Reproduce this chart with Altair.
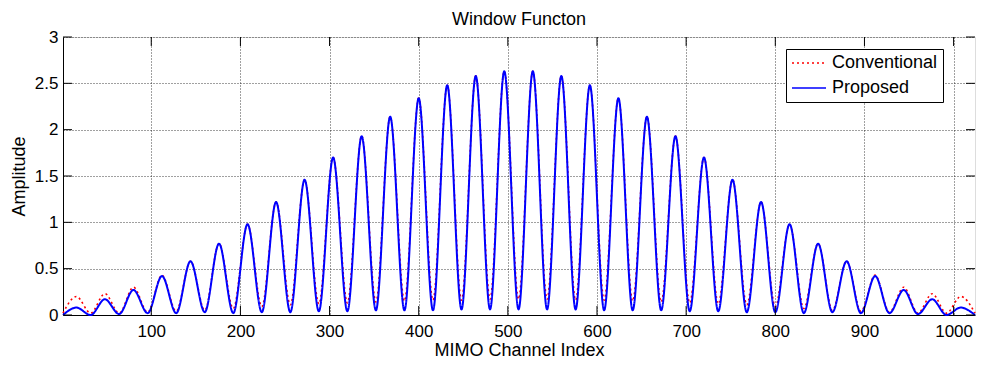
import altair as alt
import pandas as pd

FONT = "Liberation Sans"
W, H = 912, 278

# Channel indices of lobe peaks and of the nulls between them (ends included)
peak_x = [16, 48, 80, 112, 144, 176, 208, 240, 272, 304, 336, 368, 400, 432, 464, 496,
          528, 560, 592, 624, 656, 688, 720, 752, 784, 816, 848, 880, 912, 944, 976, 1008]
null_x = [1, 32, 64, 96, 128, 160, 192, 224, 256, 288, 320, 352, 384, 416, 448, 480, 512,
          544, 576, 608, 640, 672, 704, 736, 768, 800, 832, 864, 896, 928, 960, 992, 1024]

# Proposed window: lobe peak and null amplitudes
prop_peaks = [0.08, 0.17, 0.27, 0.42, 0.58, 0.77, 0.98, 1.22, 1.46, 1.70, 1.93, 2.14, 2.34, 2.48, 2.58, 2.63,
              2.63, 2.58, 2.48, 2.34, 2.14, 1.93, 1.70, 1.46, 1.22, 0.98, 0.77, 0.58, 0.42, 0.27, 0.17, 0.08]
prop_nulls = [0.00, 0.00, 0.01, 0.02, 0.02, 0.03, 0.02, 0.03, 0.03, 0.04, 0.04, 0.05, 0.05, 0.05, 0.06, 0.06, 0.06,
              0.06, 0.06, 0.05, 0.05, 0.05, 0.04, 0.04, 0.03, 0.03, 0.02, 0.03, 0.02, 0.02, 0.01, 0.00, 0.00]

# Conventional window: lobe peak and null amplitudes
conv_peaks = [0.20, 0.23, 0.30, 0.43, 0.58, 0.77, 0.98, 1.22, 1.46, 1.70, 1.93, 2.14, 2.34, 2.48, 2.58, 2.63,
              2.63, 2.58, 2.48, 2.34, 2.14, 1.93, 1.70, 1.46, 1.22, 0.98, 0.77, 0.58, 0.43, 0.30, 0.23, 0.20]
conv_nulls = [0.02, 0.02, 0.02, 0.03, 0.04, 0.05, 0.07, 0.09, 0.11, 0.12, 0.13, 0.14, 0.15, 0.16, 0.16, 0.17, 0.17,
              0.17, 0.16, 0.16, 0.15, 0.14, 0.13, 0.12, 0.11, 0.09, 0.07, 0.05, 0.04, 0.03, 0.02, 0.02, 0.02]

x_ticks = [100, 200, 300, 400, 500, 600, 700, 800, 900, 1000]
y_ticks = [0, 0.5, 1, 1.5, 2, 2.5, 3]
series_names = ["Conventional", "Proposed"]
title_text = ["Window Functon"]


def window_table(name, peaks, nulls):
    rows = []
    for i, p in enumerate(peaks):
        rows.append({"x": null_x[i], "y": nulls[i], "series": name})
        rows.append({"x": peak_x[i], "y": p, "series": name})
    rows.append({"x": null_x[-1], "y": nulls[-1], "series": name})
    return pd.DataFrame(rows)


conv_df = window_table("Conventional", conv_peaks, conv_nulls)
prop_df = window_table("Proposed", prop_peaks, prop_nulls)
xt_df = pd.DataFrame({"x": x_ticks})
yt_df = pd.DataFrame({"y": y_ticks})

grid_style = dict(grid=True, gridColor="#000000", gridDash=[1, 2], gridOpacity=0.75, gridWidth=1,
                  domain=True, domainColor="#000000", domainWidth=1, ticks=False,
                  labelFont=FONT, labelFontSize=17, labelColor="#000000",
                  titleFont=FONT, titleFontSize=18, titleFontWeight="normal", titleColor="#000000")

x_enc = alt.X("x:Q", scale=alt.Scale(domain=[1, 1024], nice=False, zero=False),
              axis=alt.Axis(values=x_ticks, format="d", title="MIMO Channel Index", labelPadding=8,
                            titlePadding=2, labelFlush=False, **grid_style))
y_enc = alt.Y("y:Q", scale=alt.Scale(domain=[0, 3], nice=False, zero=False),
              axis=alt.Axis(values=y_ticks, format="~g", title="Amplitude", labelPadding=5,
                            titlePadding=6, **grid_style))

legend = alt.Legend(orient="none", legendX=723, legendY=12, title=None,
                    fillColor="#ffffff", strokeColor="#000000", padding=5,
                    labelFont=FONT, labelFontSize=18, labelColor="#000000", labelOffset=5,
                    symbolType="stroke", symbolSize=1156, symbolStrokeWidth=1.6,
                    clipHeight=18, rowPadding=7)
color_enc = alt.Color("series:N", scale=alt.Scale(domain=series_names, range=["#ff0000", "#0000ff"]),
                      legend=legend)
dash_enc = alt.StrokeDash("series:N", scale=alt.Scale(domain=series_names, range=[[2, 3], [1, 0]]),
                          legend=legend)

conv_line = alt.Chart(conv_df).mark_line(interpolate="monotone", strokeWidth=1.6).encode(
    x=x_enc, y=y_enc, color=color_enc, strokeDash=dash_enc)
prop_line = alt.Chart(prop_df).mark_line(interpolate="monotone", strokeWidth=2).encode(
    x="x:Q", y="y:Q", color=color_enc, strokeDash=dash_enc)

# Inward tick marks on all four sides of the box
tick_len = 9
left_ticks = alt.Chart(yt_df).mark_rule(color="#000000", strokeWidth=1).encode(
    y="y:Q", x=alt.value(0), x2=alt.value(tick_len))
right_ticks = alt.Chart(yt_df).mark_rule(color="#000000", strokeWidth=1).encode(
    y="y:Q", x=alt.value(W - tick_len), x2=alt.value(W))
bottom_ticks = alt.Chart(xt_df).mark_rule(color="#000000", strokeWidth=1).encode(
    x="x:Q", y=alt.value(H - tick_len), y2=alt.value(H))
top_ticks = alt.Chart(xt_df).mark_rule(color="#000000", strokeWidth=1).encode(
    x="x:Q", y=alt.value(0), y2=alt.value(tick_len))

# Plot title centred above the box
title_mark = alt.Chart(pd.DataFrame({"t": title_text})).mark_text(
    font=FONT, fontSize=18, color="#000000", align="center", baseline="alphabetic").encode(
    x=alt.value(W / 2), y=alt.value(-12.5), text="t:N")

chart = alt.layer(conv_line, prop_line, left_ticks, right_ticks, bottom_ticks, top_ticks,
                  title_mark).properties(
    width=W, height=H,
    autosize=alt.AutoSizeParams(type="none"),
    padding={"left": 63, "top": 37, "right": 6, "bottom": 51},
).configure_view(stroke="#000000", strokeWidth=1.2).configure(background="#ffffff")

chart.save("out.html", embed_options={"renderer": "svg", "actions": False})
